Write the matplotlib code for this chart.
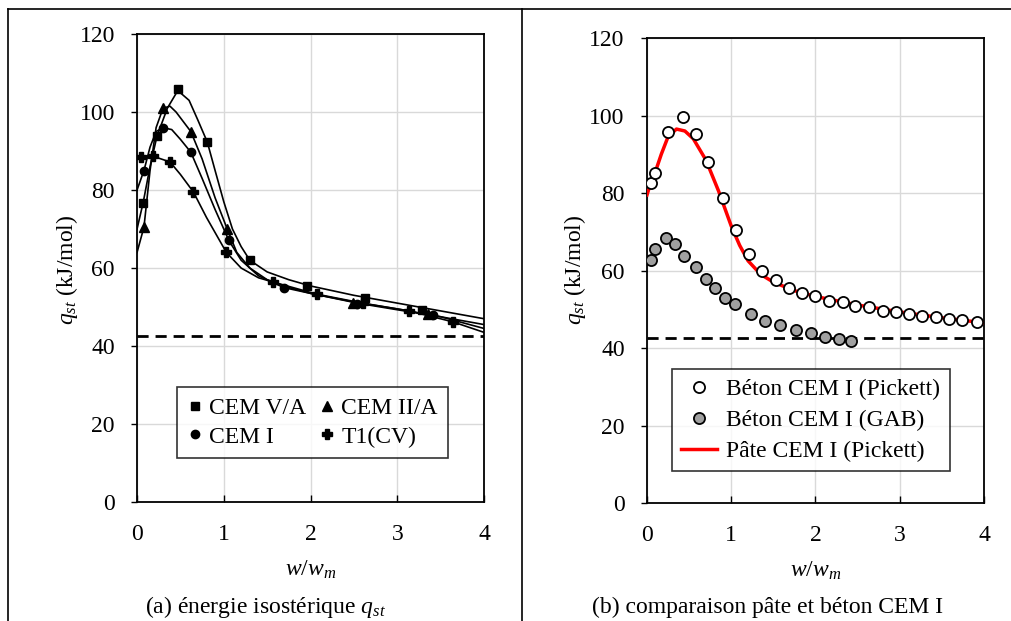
import numpy as np
import matplotlib.pyplot as plt
from matplotlib.lines import Line2D

plt.rcParams['font.family'] = ['Liberation Serif', 'DejaVu Serif']
plt.rcParams['mathtext.fontset'] = 'custom'
plt.rcParams['mathtext.it'] = 'Liberation Serif:italic'
plt.rcParams['mathtext.rm'] = 'Liberation Serif'

# (a) points mesurés
x_v = [0.07, 0.23, 0.47, 0.81, 1.30, 1.96, 2.63, 3.28]
y_v = [76.7, 93.8, 105.9, 92.3, 62.0, 55.4, 52.3, 49.2]
x_ii = [0.08, 0.30, 0.62, 1.04, 2.49, 3.35]
y_ii = [70.5, 101.0, 95.0, 70.0, 51.0, 48.2]
x_i = [0.08, 0.30, 0.62, 1.06, 1.69, 2.54, 3.41]
y_i = [85.0, 96.0, 89.7, 67.2, 55.0, 50.8, 48.0]
x_t1 = [0.05, 0.18, 0.38, 0.65, 1.03, 1.57, 2.07, 2.60, 3.14, 3.64]
y_t1 = [88.5, 88.7, 87.2, 79.5, 64.1, 56.4, 53.3, 51.0, 49.0, 46.2]

# (a) courbes ajustées
cx_v = [0, 0.07, 0.15, 0.23, 0.35, 0.47, 0.6, 0.7, 0.81, 0.9, 1.0, 1.1, 1.2, 1.3, 1.5, 1.75, 2.0, 2.5, 3.0, 3.5, 4.0]
cy_v = [70, 76.7, 86, 93.8, 101, 105.5, 103, 98, 92.3, 85, 77, 70, 65.5, 62, 59, 57, 55.4, 53, 51, 49, 47]
cx_ii = [0, 0.08, 0.15, 0.22, 0.30, 0.38, 0.45, 0.62, 0.75, 0.9, 1.04, 1.15, 1.3, 1.5, 1.75, 2.0, 2.5, 3.0, 3.5, 4.0]
cy_ii = [64, 70.5, 85, 96, 101, 101.5, 100, 95, 88, 78, 70, 64, 60, 57, 55, 53.5, 51.3, 49.5, 47.5, 45.5]
cx_i = [0, 0.08, 0.15, 0.22, 0.30, 0.4, 0.5, 0.62, 0.75, 0.9, 1.06, 1.2, 1.4, 1.69, 2.0, 2.54, 3.0, 3.5, 4.0]
cy_i = [80, 85, 91, 95, 96, 95.5, 93, 89.7, 83, 75, 67, 62, 58, 55, 53.5, 51, 49.3, 47.5, 44.5]
cx_t1 = [0, 0.18, 0.38, 0.5, 0.65, 0.8, 1.03, 1.2, 1.4, 1.57, 2.07, 2.6, 3.14, 3.64, 4.0]
cy_t1 = [88.5, 88.7, 87.2, 84, 79.5, 73, 64, 60, 57.5, 56.4, 53.3, 51, 49, 46.2, 43.5]

# (b) béton CEM I
x_pick = [0.05, 0.10, 0.25, 0.43, 0.58, 0.73, 0.90, 1.06, 1.21, 1.36, 1.53, 1.69, 1.84, 1.99, 2.16,
          2.33, 2.47, 2.63, 2.80, 2.96, 3.11, 3.26, 3.43, 3.58, 3.74, 3.92]
y_pick = [82.6, 85.1, 95.8, 99.7, 95.2, 88.0, 78.7, 70.5, 64.3, 59.9, 57.5, 55.5, 54.2, 53.4, 52.1,
          51.9, 50.8, 50.6, 49.6, 49.3, 48.8, 48.3, 48.0, 47.5, 47.2, 46.7]
x_gab = [0.05, 0.10, 0.22, 0.33, 0.44, 0.58, 0.70, 0.81, 0.93, 1.04, 1.23, 1.40, 1.58, 1.77, 1.95, 2.11, 2.28, 2.42]
y_gab = [62.7, 65.5, 68.4, 66.8, 63.7, 60.9, 57.8, 55.5, 52.9, 51.4, 48.8, 47.0, 45.9, 44.6, 43.9, 42.8, 42.3, 41.8]
# (b) pâte CEM I (Pickett)
x_pate = [0, 0.05, 0.1, 0.17, 0.25, 0.35, 0.45, 0.55, 0.7, 0.85, 1.0, 1.1, 1.2, 1.35, 1.5, 1.75, 2.0, 2.5, 3.0, 3.5, 4.0]
y_pate = [79.5, 83, 85.5, 90, 94.5, 96.5, 96, 94, 88.5, 80.5, 71.5, 66.5, 62.5, 59, 57, 54.8, 53.3, 51.1, 49.3, 47.8, 46.5]

q_ref = 42.6

fig = plt.figure(figsize=(10.12, 6.21), dpi=100)
ax1 = fig.add_axes([0.1354, 0.1916, 0.3429, 0.7536])
ax2 = fig.add_axes([0.6393, 0.19, 0.333, 0.7488])

fs = 17
for ax in (ax1, ax2):
    ax.set_xlim(0, 4)
    ax.set_ylim(0, 120)
    ax.set_xticks([0, 1, 2, 3, 4])
    ax.set_yticks(range(0, 121, 20))
    ax.grid(True, color='#d9d9d9', lw=1)
    ax.set_axisbelow(True)
    for s in ax.spines.values():
        s.set_linewidth(1.3)
        s.set_color('black')
    ax.tick_params(axis='x', direction='in', length=5, width=1, labelsize=fs, pad=16)
    ax.tick_params(axis='y', direction='out', length=4, width=1, labelsize=fs, pad=12)
    ax.axhline(q_ref, color='black', lw=2, ls=(0, (4, 2.5)), zorder=2)
    ax.set_xlabel(r'$w/w_m$', fontsize=fs, labelpad=10)

# (a)
for cx, cy in [(cx_v, cy_v), (cx_ii, cy_ii), (cx_i, cy_i), (cx_t1, cy_t1)]:
    ax1.plot(cx, cy, color='black', lw=1.2, zorder=3)
ax1.plot(x_v, y_v, 's', color='black', ms=6, zorder=4, label='CEM V/A')
ax1.plot(x_ii, y_ii, '^', color='black', ms=7, zorder=4, label='CEM II/A')
ax1.plot(x_i, y_i, 'o', color='black', ms=6, zorder=4, label='CEM I')
ax1.plot(x_t1, y_t1, 'P', color='black', ms=7, zorder=4, label='T1(CV)')
handles, labels = ax1.get_legend_handles_labels()
order = [0, 2, 1, 3]
leg1 = ax1.legend([handles[i] for i in order], [labels[i] for i in order], ncol=2,
                  loc='upper left', bbox_to_anchor=(0.115, 0.246), borderaxespad=0, fontsize=fs,
                  frameon=True, fancybox=False, edgecolor='black', handlelength=0.6,
                  handletextpad=0.3, columnspacing=0.6, labelspacing=0.3, borderpad=0.45)
leg1.get_frame().set_linewidth(1.2)

# (b)
ax2.plot(x_pate, y_pate, color='red', lw=2.5, zorder=3, label='Pâte CEM I (Pickett)')
ax2.plot(x_pick, y_pick, 'o', mfc='white', mec='black', mew=1.3, ms=8, zorder=4,
         label='Béton CEM I (Pickett)')
ax2.plot(x_gab, y_gab, 'o', mfc='#a0a0a0', mec='black', mew=1.3, ms=8, zorder=4,
         label='Béton CEM I (GAB)')
h, l = ax2.get_legend_handles_labels()
leg2 = ax2.legend([h[1], h[2], h[0]], [l[1], l[2], l[0]], loc='upper left',
                  bbox_to_anchor=(0.074, 0.288), borderaxespad=0, fontsize=fs, frameon=True,
                  fancybox=False, edgecolor='black', handlelength=1.5, handletextpad=0.4,
                  labelspacing=0.4, borderpad=0.4)
leg2.get_frame().set_linewidth(1.2)

fig.text(67 / 1012, 0.565, r'$q_{st}$ (kJ/mol)', rotation=90, ha='center', va='center', fontsize=fs)
fig.text(575 / 1012, 0.565, r'$q_{st}$ (kJ/mol)', rotation=90, ha='center', va='center', fontsize=fs)

fig.text(0.262, 0.0225, r'(a) énergie isostérique $q_{st}$', ha='center', va='center', fontsize=fs)
fig.text(0.758, 0.0225, '(b) comparaison pâte et béton CEM I', ha='center', va='center', fontsize=fs)

# cadre du tableau
fig.add_artist(Line2D([0.008, 1.0], [1 - 9 / 621, 1 - 9 / 621], color='black', lw=1.2))
fig.add_artist(Line2D([0.008, 0.008], [0, 1 - 9 / 621], color='black', lw=1.2))
fig.add_artist(Line2D([522 / 1012, 522 / 1012], [0, 1 - 9 / 621], color='black', lw=1.2))

fig.savefig('out.png', dpi=100)
